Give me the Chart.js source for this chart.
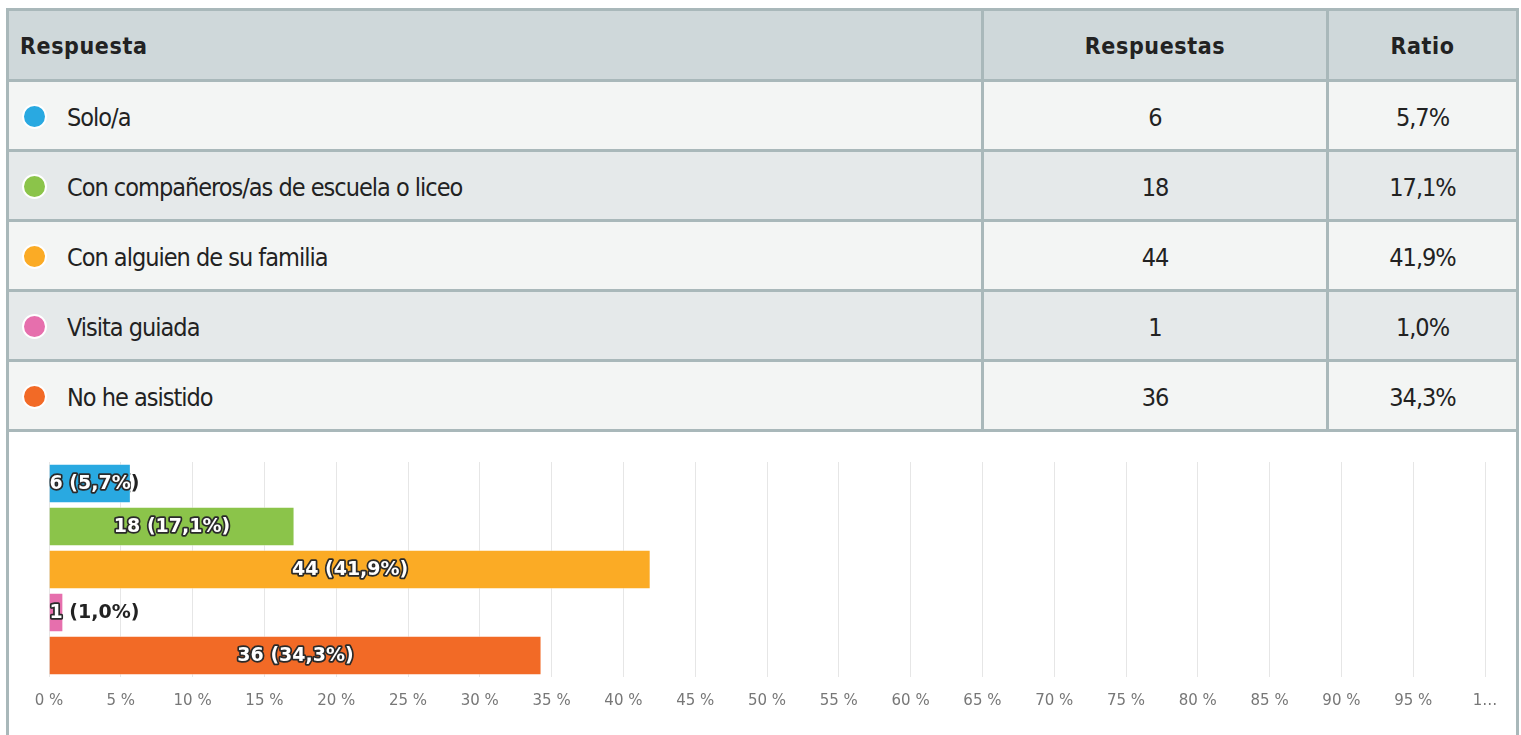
<!DOCTYPE html>
<html>
<head>
<meta charset="utf-8">
<script src="https://cdn.jsdelivr.net/npm/chart.js@4"></script>
<style>
  body { margin: 0; background: #fff; }
  .card {
    position: absolute; left: 6px; top: 8px; width: 1513px; height: 740px;
    box-sizing: border-box; border: 3px solid #a9b8ba; border-bottom: none;
    font-family: "Liberation Sans Narrow", "DejaVu Sans Condensed", sans-serif;
    color: #222;
  }
  .row { display: flex; height: 70px; box-sizing: border-box; border-bottom: 3px solid #a9b8ba; }
  .row.head { height: 71px; background: #cfd8da; font-weight: bold; }
  .row.light { background: #f3f5f4; }
  .row.dark { background: #e5e9ea; }
  .c1, .c2, .c3 { box-sizing: border-box; display: flex; align-items: center; font-size: 25px; letter-spacing: -1px; padding-top: 4px; }
  .head .c1, .head .c2, .head .c3 { font-size: 23px; letter-spacing: 0.6px; padding-top: 2px; }
  .c1 { width: 975px; border-right: 3px solid #a9b8ba; padding-left: 13px; }
  .c2 { width: 345px; border-right: 3px solid #a9b8ba; justify-content: center; }
  .c3 { width: 187px; justify-content: center; }
  .head .c1 { padding-left: 11px; }
  .dot { width: 25px; height: 25px; box-sizing: border-box; border: 2px solid #fff; border-radius: 50%; margin-right: 20px; margin-top: -2px; }
  .chartbox { position: relative; width: 1507px; height: 293px; }
</style>
</head>
<body>
<div class="card">
  <div id="tbl"></div>
  <div class="chartbox"><canvas id="chart"></canvas></div>
</div>
<script>
const categories = ["Solo/a", "Con compañeros/as de escuela o liceo", "Con alguien de su familia", "Visita guiada", "No he asistido"];
const counts = [6, 18, 44, 1, 36];
const ratios = [5.7, 17.1, 41.9, 1.0, 34.3];
const colors = ["#29a9e1", "#8bc44a", "#fbab25", "#e66fad", "#f26a26"];
const xTicks = ["0 %", "5 %", "10 %", "15 %", "20 %", "25 %", "30 %", "35 %", "40 %", "45 %", "50 %",
                "55 %", "60 %", "65 %", "70 %", "75 %", "80 %", "85 %", "90 %", "95 %", "1…"];

const fmt = v => v.toFixed(1).replace(".", ",");

// table
const tbl = document.getElementById("tbl");
let html = '<div class="row head"><div class="c1">Respuesta</div><div class="c2">Respuestas</div><div class="c3">Ratio</div></div>';
categories.forEach((c, i) => {
  html += '<div class="row ' + (i % 2 ? "dark" : "light") + '">' +
    '<div class="c1"><span class="dot" style="background:' + colors[i] + '"></span>' + c + '</div>' +
    '<div class="c2">' + counts[i] + '</div>' +
    '<div class="c3">' + fmt(ratios[i]) + '%</div></div>';
});
tbl.innerHTML = html;

// labels on bars: dark text, white+outline where it overlaps the bar
const barLabels = {
  id: "barLabels",
  afterDatasetsDraw(chart) {
    const ctx = chart.ctx;
    const meta = chart.getDatasetMeta(0);
    ctx.save();
    ctx.font = "bold 19px 'DejaVu Sans'";
    ctx.textBaseline = "middle";
    ctx.textAlign = "left";
    meta.data.forEach((bar, i) => {
      const txt = counts[i] + " (" + fmt(ratios[i]) + "%)";
      const w = ctx.measureText(txt).width;
      const left = Math.min(bar.x, bar.base), right = Math.max(bar.x, bar.base);
      const top = bar.y - bar.height / 2;
      let tx = (right - left) > w + 6 ? (left + right) / 2 - w / 2 : left;
      const ty = bar.y + 1;
      ctx.fillStyle = "#222";
      ctx.fillText(txt, tx, ty);
      ctx.save();
      ctx.beginPath();
      ctx.rect(left, top, right - left, bar.height);
      ctx.clip();
      ctx.lineWidth = 3.5;
      ctx.lineJoin = "round";
      ctx.strokeStyle = "#2a2a2a";
      ctx.strokeText(txt, tx, ty);
      ctx.fillStyle = "#fff";
      ctx.fillText(txt, tx, ty);
      ctx.restore();
    });
    ctx.restore();
  }
};

new Chart(document.getElementById("chart"), {
  type: "bar",
  data: {
    labels: categories,
    datasets: [{
      data: ratios,
      backgroundColor: colors,
      borderColor: "rgba(255,255,255,0.5)",
      borderWidth: 1,
      barPercentage: 0.92,
      categoryPercentage: 1
    }]
  },
  options: {
    indexAxis: "y",
    responsive: true,
    maintainAspectRatio: false,
    animation: false,
    layout: { padding: { left: 40, right: 31, top: 30, bottom: 0 } },
    plugins: { legend: { display: false }, tooltip: { enabled: false } },
    scales: {
      x: {
        min: 0, max: 100,
        ticks: {
          stepSize: 5, maxRotation: 0, autoSkip: false, padding: 15,
          color: "#777", font: { family: "DejaVu Sans", size: 15 },
          callback: (v, i) => xTicks[i]
        },
        grid: { color: "#e6e6e6", drawTicks: false },
        border: { display: false }
      },
      y: {
        display: false
      }
    }
  },
  plugins: [barLabels]
});
</script>
</body>
</html>
